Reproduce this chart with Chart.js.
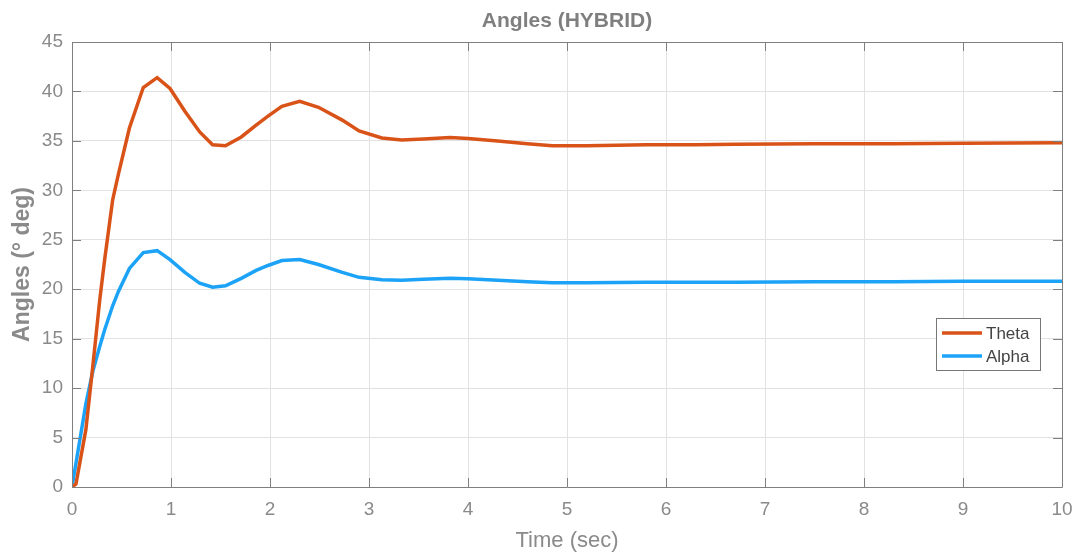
<!DOCTYPE html>
<html>
<head>
<meta charset="utf-8">
<title>Angles (HYBRID)</title>
<script src="https://cdn.jsdelivr.net/npm/chart.js@4.4.1/dist/chart.umd.min.js"></script>
<style>
    html, body { margin: 0; padding: 0; background: #ffffff; }
    .wrap { position: relative; width: 1075px; height: 554px; }
</style>
</head>
<body>
<div class="wrap"><canvas id="angleChart" width="1075" height="554"></canvas></div>
<script>
// sample times (sec)
const timeSec = [0, 0.04, 0.14, 0.21, 0.28, 0.33, 0.41, 0.47, 0.58, 0.72, 0.86, 0.99, 1.14, 1.29, 1.42, 1.55,
    1.71, 1.86, 1.98, 2.12, 2.30, 2.49, 2.73, 2.90, 3.13, 3.33, 3.55, 3.82, 4.0, 4.3, 4.6, 4.85, 5.2, 5.8,
    6.3, 6.7, 7.5, 8.3, 9.0, 10];
const thetaDeg = [0, 0.3, 5.8, 12.2, 18.9, 23.0, 29.0, 31.7, 36.3, 40.4, 41.4, 40.3, 38.0, 35.9, 34.6, 34.5,
    35.4, 36.6, 37.5, 38.5, 39.0, 38.4, 37.1, 36.0, 35.3, 35.1, 35.2, 35.35, 35.25, 35.0, 34.7, 34.5, 34.5, 34.6,
    34.6, 34.65, 34.7, 34.7, 34.75, 34.8];
const alphaDeg = [0, 2.4, 8.4, 11.7, 14.2, 15.9, 18.3, 19.8, 22.1, 23.7, 23.9, 23.0, 21.7, 20.6, 20.2, 20.35,
    21.1, 21.9, 22.4, 22.9, 23.0, 22.5, 21.7, 21.2, 20.95, 20.9, 21.0, 21.1, 21.05, 20.9, 20.75, 20.65, 20.65, 20.7,
    20.7, 20.7, 20.75, 20.75, 20.8, 20.8];
const xTicks = [0, 1, 2, 3, 4, 5, 6, 7, 8, 9, 10];
const yTicks = [0, 5, 10, 15, 20, 25, 30, 35, 40, 45];
const seriesNames = ['Theta', 'Alpha'];
const chartTitle = 'Angles (HYBRID)';

const colors = {
    theta: '#D95319',
    alpha: '#1CA3F7',
    axis: '#7f7f7f',
    grid: '#e2e2e2',
    text: '#8a8a8a',
    legendText: '#444444'
};
const fontFamily = '"Liberation Sans", Arial, Helvetica, sans-serif';

function toPoints(ys) {
    return timeSec.map((t, i) => ({ x: t, y: ys[i] }));
}

// box round the axes with inward ticks, matlab style
const boxPlugin = {
    id: 'boxPlugin',
    afterDatasetsDraw(chart) {
        const { ctx, chartArea: a, scales } = chart;
        const tl = 9;
        ctx.save();
        ctx.strokeStyle = colors.axis;
        ctx.lineWidth = 1;
        ctx.beginPath();
        ctx.rect(Math.round(a.left) + 0.5, Math.round(a.top) + 0.5, Math.round(a.right - a.left), Math.round(a.bottom - a.top));
        xTicks.forEach(v => {
            const x = Math.round(scales.x.getPixelForValue(v)) + 0.5;
            ctx.moveTo(x, a.bottom); ctx.lineTo(x, a.bottom - tl);
            ctx.moveTo(x, a.top); ctx.lineTo(x, a.top + tl);
        });
        yTicks.forEach(v => {
            const y = Math.round(scales.y.getPixelForValue(v)) + 0.5;
            ctx.moveTo(a.left, y); ctx.lineTo(a.left + tl, y);
            ctx.moveTo(a.right, y); ctx.lineTo(a.right - tl, y);
        });
        ctx.stroke();
        ctx.restore();
    },
    afterDraw(chart) {
        const { ctx, chartArea: a } = chart;
        ctx.save();
        // title centred over the axes
        ctx.fillStyle = colors.axis;
        ctx.font = 'bold 21px ' + fontFamily;
        ctx.textAlign = 'center';
        ctx.textBaseline = 'middle';
        ctx.fillText(chartTitle, (a.left + a.right) / 2, 21);

        // legend box inside the axes, right side
        const w = 104, h = 52;
        const x0 = a.right - 126, y0 = 318;
        ctx.fillStyle = '#ffffff';
        ctx.fillRect(x0, y0, w, h);
        ctx.strokeStyle = '#777777';
        ctx.lineWidth = 1;
        ctx.strokeRect(x0 + 0.5, y0 + 0.5, w, h);
        ctx.font = '17px ' + fontFamily;
        ctx.textAlign = 'left';
        chart.data.datasets.forEach((ds, i) => {
            const y = y0 + 15 + i * 23;
            ctx.strokeStyle = ds.borderColor;
            ctx.lineWidth = 3.5;
            ctx.beginPath();
            ctx.moveTo(x0 + 6, y);
            ctx.lineTo(x0 + 46, y);
            ctx.stroke();
            ctx.fillStyle = colors.legendText;
            ctx.fillText(ds.label, x0 + 50, y + 1);
        });
        ctx.restore();
    }
};

new Chart(document.getElementById('angleChart').getContext('2d'), {
    type: 'line',
    data: {
        datasets: [{
            label: seriesNames[0],
            data: toPoints(thetaDeg),
            borderColor: colors.theta,
            borderWidth: 3.5,
            pointRadius: 0,
            tension: 0,
            fill: false
        }, {
            label: seriesNames[1],
            data: toPoints(alphaDeg),
            borderColor: colors.alpha,
            borderWidth: 3.5,
            pointRadius: 0,
            tension: 0,
            fill: false
        }]
    },
    options: {
        responsive: false,
        animation: false,
        layout: { padding: { left: 0, right: 13, top: 42, bottom: 0 } },
        plugins: {
            legend: { display: false },
            tooltip: { enabled: false },
            title: { display: false }
        },
        scales: {
            x: {
                type: 'linear',
                min: 0,
                max: 10,
                afterBuildTicks: s => { s.ticks = xTicks.map(v => ({ value: v })); },
                afterFit: s => { s.height = 67; s.paddingLeft = 0; s.paddingRight = 0; },
                grid: { color: colors.grid, drawTicks: false },
                border: { display: false },
                ticks: {
                    color: colors.text,
                    padding: 11,
                    maxRotation: 0,
                    font: { family: fontFamily, size: 19 }
                },
                title: {
                    display: true,
                    text: 'Time (sec)',
                    color: colors.text,
                    font: { family: fontFamily, size: 22 },
                    padding: { top: 3, bottom: 0 }
                }
            },
            y: {
                type: 'linear',
                min: 0,
                max: 45,
                afterBuildTicks: s => { s.ticks = yTicks.map(v => ({ value: v })); },
                afterFit: s => { s.width = 72; s.paddingTop = 0; s.paddingBottom = 0; },
                grid: { color: colors.grid, drawTicks: false },
                border: { display: false },
                ticks: {
                    color: colors.text,
                    padding: 9,
                    font: { family: fontFamily, size: 19 }
                },
                title: {
                    display: true,
                    text: 'Angles (° deg)',
                    color: colors.text,
                    font: { family: fontFamily, size: 23, weight: 'bold' },
                    padding: { top: 9, bottom: 0 }
                }
            }
        }
    },
    plugins: [boxPlugin]
});
</script>
</body>
</html>
